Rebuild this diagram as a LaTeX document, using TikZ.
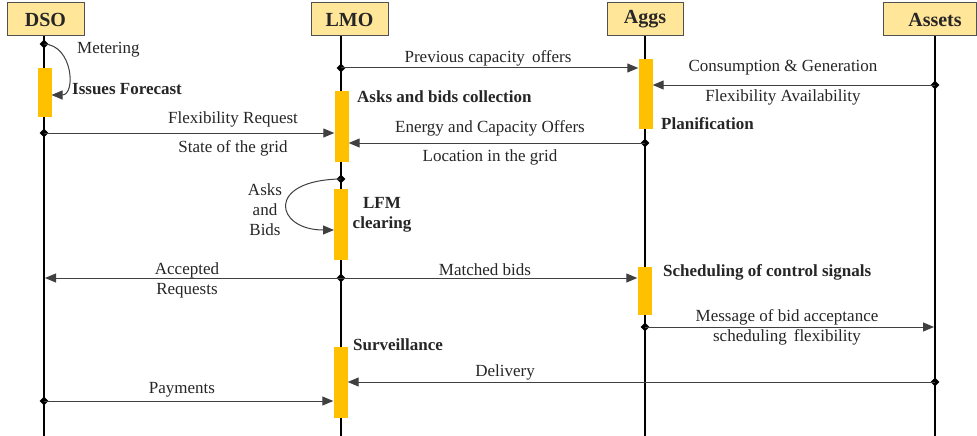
\documentclass[tikz,border=0pt]{standalone}
\usepackage{fontspec}
\setmainfont{Liberation Serif}
\usetikzlibrary{arrows.meta,shapes.geometric}
\definecolor{headfill}{HTML}{FFE699}
\definecolor{barfill}{HTML}{FFC000}
\definecolor{ink}{HTML}{262626}
\definecolor{wire}{HTML}{404040}
\begin{document}
\begin{tikzpicture}[x=1pt,y=-1pt,
 head/.style={draw=ink!80, line width=1pt, fill=headfill, minimum height=33pt, inner sep=0pt, font=\fontsize{20}{22}\selectfont\bfseries, text=ink},
 life/.style={line width=1.5pt, black},
 bar/.style={fill=barfill, draw=none, minimum width=14pt, inner sep=0pt},
 msg/.style={draw=wire, line width=1pt, -{Triangle[length=11pt,width=9pt]}},
 dot/.style={diamond, fill=black, inner sep=0pt, minimum size=9pt},
 lbl/.style={font=\fontsize{17}{20}\selectfont, text=ink, inner sep=0pt, align=center},
 act/.style={font=\fontsize{17}{20}\selectfont\bfseries, text=ink, inner sep=0pt, align=left},
]
\useasboundingbox (0,0) rectangle (977,436);
\fill[white] (0,0) rectangle (977,436);
% heads
\node[head, minimum width=77pt] (dso) at (45.5,19.5) {DSO};
\node[head, minimum width=77pt] (lmo) at (349.5,19.5) {LMO};
\node[head, minimum width=76pt] (aggs) at (645,19.5) {Aggs};
\node[head, minimum width=93pt] (assets) at (929.5,19.5) {\hspace*{11pt}Assets};
% lifelines
\coordinate (dsoE) at (44,436);
\coordinate (lmoE) at (341,436);
\coordinate (aggsE) at (645,436);
\coordinate (assetsE) at (935,436);
\draw[life] (44,36) -- (dsoE);
\draw[life] (341,36) -- (lmoE);
\draw[life] (645,36) -- (aggsE);
\draw[life] (935,36) -- (assetsE);
% bars
\node[bar, minimum height=49pt] (b1) at (44.5,92.5) {};
\node[bar, minimum height=71pt] (b2) at (341.5,126.5) {};
\node[bar, minimum height=70pt] (b3) at (645.5,94) {};
\node[bar, minimum height=71pt] (b4) at (341,224.5) {};
\node[bar, minimum height=48pt] (b5) at (644.5,291) {};
\node[bar, minimum height=71pt] (b6) at (340.5,382.5) {};
% 1 metering loop
\node[dot] (d1) at (44,44) {};
\coordinate (t1) at (51.5,95);
\draw[msg] (d1.center) .. controls (73,45) and (76,95) .. (t1);
\node[lbl, anchor=west] (l1) at (77,50) {Metering};
\node[act, anchor=west] (a1) at (72,89) {Issues Forecast};
% 2 flexibility request
\node[dot] (d2) at (44,133) {};
\draw[msg] (d2.center) -- (b2.west |- d2);
\node[lbl] (l2a) at (233,119) {Flexibility Request};
\node[lbl] (l2b) at (233,148) {State of the grid};
% 3 previous capacity offers
\node[dot] (d3) at (341,68) {};
\draw[msg] (d3.center) -- (b3.west |- d3);
\node[lbl] (l3) at (488,58) {Previous capacity\ \,offers};
\node[act, anchor=west] (a3) at (357,97) {Asks and bids collection};
% 5 consumption
\node[dot] (d5) at (935,85) {};
\draw[msg] (d5.center) -- (b3.east |- d5);
\node[lbl] (l5a) at (783,68) {Consumption \& Generation};
\node[lbl] (l5b) at (783,97) {Flexibility Availability};
\node[act, anchor=west] (a5) at (661,124) {Planification};
% 7 energy
\node[dot] (d7) at (645,143) {};
\draw[msg] (d7.center) -- (b2.east |- d7);
\node[lbl] (l7a) at (490,128) {Energy and Capacity Offers};
\node[lbl] (l7b) at (490,157) {Location in the grid};
% 8 asks and bids loop
\node[dot] (d8) at (341,179) {};
\coordinate (t8) at (334,230);
\draw[msg] (d8.center) .. controls (265,180) and (275,230) .. (t8);
\node[lbl] (l8) at (265,210) {Asks\\and\\Bids};
\node[act, align=center] (a8) at (382,215) {LFM\\clearing};
% 10 accepted
\node[dot] (d10) at (341,278) {};
\coordinate (t10) at (45,278);
\draw[msg] (d10.center) -- (t10);
\node[lbl] (l10a) at (187,270) {Accepted};
\node[lbl] (l10b) at (187,291) {Requests};
% 11 matched bids
\draw[msg] (d10.center) -- (b5.west |- d10);
\node[lbl] (l11) at (485,270) {Matched bids};
\node[act, anchor=west] (a11) at (663,272) {Scheduling of control signals};
% 13 message
\node[dot] (d13) at (645,327) {};
\coordinate (t13) at (934,327);
\draw[msg] (d13.center) -- (t13);
\node[lbl] (l13a) at (787,317) {Message of bid acceptance};
\node[lbl] (l13b) at (787,337) {scheduling\ \,flexibility};
\node[act, anchor=west] (a13) at (353,345) {Surveillance};
% 15 delivery
\node[dot] (d15) at (935,382) {};
\draw[msg] (d15.center) -- (b6.east |- d15);
\node[lbl] (l15) at (505,372) {Delivery};
% 16 payments
\node[dot] (d16) at (44,401) {};
\draw[msg] (d16.center) -- (b6.west |- d16);
\node[lbl] (l16) at (182,390) {Payments};
\end{tikzpicture}
\end{document}
